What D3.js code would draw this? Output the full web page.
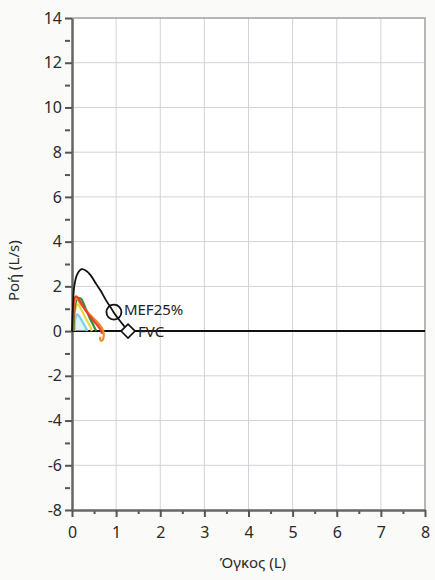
<!DOCTYPE html>
<html>
<head>
<meta charset="utf-8">
<script src="https://cdn.jsdelivr.net/npm/d3@7"></script>
<style>
  body { margin: 0; background: #fafaf9; }
  svg { display: block; }
  .tick text { font-family: "Noto Sans", "Open Sans", sans-serif; font-size: 16px; fill: #2a2a2a; }
</style>
</head>
<body>
<div id="chart"></div>
<script>
// flow-volume loops: [volume L, flow L/s]
var bestCurve = [[0,0],[0.02,1.0],[0.05,2.0],[0.12,2.55],[0.22,2.77],[0.32,2.7],[0.42,2.5],[0.55,2.1],[0.65,1.8],[0.78,1.35],[0.88,1.05],[0.95,0.82],[1.05,0.55],[1.15,0.3],[1.27,0]];
var redCurve = [[0.02,0],[0.03,0.8],[0.05,1.45],[0.1,1.55],[0.18,1.35],[0.3,0.95],[0.45,0.55],[0.58,0.25],[0.65,0.05],[0.68,-0.12]];
var orangeCurve = [[0.03,0],[0.05,1.2],[0.1,1.45],[0.2,1.2],[0.35,0.85],[0.5,0.55],[0.62,0.3],[0.7,0.05],[0.72,-0.15],[0.7,-0.38],[0.65,-0.42],[0.64,-0.25]];
var greenCurve = [[0.04,0],[0.06,1.0],[0.12,1.45],[0.2,1.45],[0.3,1.05],[0.4,0.6],[0.5,0.2],[0.55,0]];
var yellowCurve = [[0.05,0],[0.07,0.9],[0.12,1.2],[0.2,1.0],[0.3,0.6],[0.4,0.25],[0.45,0]];
var cyanCurve = [[0.06,0],[0.08,0.6],[0.12,0.75],[0.2,0.55],[0.3,0.2],[0.35,0]];
var curves = [
  {pts: cyanCurve, color: "#7fd0e6"},
  {pts: yellowCurve, color: "#e6d84a"},
  {pts: greenCurve, color: "#2f8a3e"},
  {pts: orangeCurve, color: "#f08a2e"},
  {pts: redCurve, color: "#e4412a"}
];
var markers = [{name: "MEF25%", v: 0.95, f: 0.85, shape: "circle", dy: 3}, {name: "FVC", v: 1.27, f: 0, shape: "diamond", dy: 6}];
var xTicks = [0,1,2,3,4,5,6,7,8];
var yTicks = [-8,-6,-4,-2,0,2,4,6,8,10,12,14];

var W = 435, H = 580;
var margin = {top: 18, right: 10, bottom: 70, left: 72},
    width = W - margin.left - margin.right,
    height = H - margin.top - margin.bottom;

var svg = d3.select("#chart").append("svg")
    .attr("width", W)
    .attr("height", H)
  .append("g")
    .attr("transform", "translate(" + margin.left + "," + margin.top + ")");

var x = d3.scaleLinear().domain([0, 8]).range([0, width]);
var y = d3.scaleLinear().domain([-8, 14]).range([height, 0]);

svg.append("rect").attr("width", width).attr("height", height).attr("fill", "#fff");

// grid
svg.selectAll(".gx").data(xTicks.slice(1, -1)).enter().append("line")
    .attr("x1", d => x(d)).attr("x2", d => x(d)).attr("y1", 0).attr("y2", height)
    .attr("stroke", "#d2d3da").attr("stroke-width", 1);
svg.selectAll(".gy").data(yTicks.slice(1, -1)).enter().append("line")
    .attr("y1", d => y(d)).attr("y2", d => y(d)).attr("x1", 0).attr("x2", width)
    .attr("stroke", "#d2d3da").attr("stroke-width", 1);

// frame top/right
svg.append("path").attr("d", "M0,0H" + width + "V" + height)
    .attr("fill", "none").attr("stroke", "#a0a0a0").attr("stroke-width", 1.5);

// minor ticks
svg.append("g").attr("transform", "translate(0," + height + ")")
    .call(d3.axisBottom(x).tickValues(d3.range(0.5, 8, 1)).tickSize(4).tickFormat(""))
    .call(g => g.select(".domain").remove())
    .selectAll("line").attr("stroke", "#555").attr("stroke-width", 2);
svg.append("g")
    .call(d3.axisLeft(y).tickValues(d3.range(-7, 14, 2)).tickSize(5).tickFormat(""))
    .call(g => g.select(".domain").remove())
    .selectAll("line").attr("stroke", "#555").attr("stroke-width", 2).attr("transform", "translate(-2,0)");

// axes
var xAxis = svg.append("g").attr("transform", "translate(0," + height + ")")
    .call(d3.axisBottom(x).tickValues(xTicks).tickSize(7).tickSizeOuter(0).tickPadding(10));
var yAxis = svg.append("g")
    .call(d3.axisLeft(y).tickValues(yTicks).tickSize(7).tickSizeOuter(0).tickPadding(3).tickFormat(d => d));
[xAxis, yAxis].forEach(function(a) {
  a.select(".domain").attr("stroke", "#666").attr("stroke-width", 2.5);
  a.selectAll("line").attr("stroke", "#555").attr("stroke-width", 2);
});

// zero line
svg.append("line").attr("x1", x(0)).attr("x2", x(8)).attr("y1", y(0)).attr("y2", y(0))
    .attr("stroke", "#111").attr("stroke-width", 2);

var line = d3.line().x(d => x(d[0])).y(d => y(d[1])).curve(d3.curveCatmullRom);

// faint cyan fill
svg.append("path").datum(cyanCurve).attr("d", line).attr("fill", "#c4ebf4").attr("stroke", "none").attr("opacity", 0.6);

curves.forEach(function(c) {
  svg.append("path").datum(c.pts).attr("d", line)
      .attr("fill", "none").attr("stroke", c.color).attr("stroke-width", 2.2);
});
svg.append("path").datum(bestCurve).attr("d", line)
    .attr("fill", "none").attr("stroke", "#111").attr("stroke-width", 1.8);

// markers
markers.forEach(function(m) {
  var cx = x(m.v), cy = y(m.f);
  if (m.shape === "circle") {
    svg.append("circle").attr("cx", cx).attr("cy", cy).attr("r", 7.5)
        .attr("fill", "none").attr("stroke", "#111").attr("stroke-width", 1.8);
  } else {
    svg.append("path").attr("d", "M" + cx + "," + (cy - 7) + "l7,7l-7,7l-7,-7z")
        .attr("fill", "#fff").attr("stroke", "#111").attr("stroke-width", 1.6);
  }
  svg.append("text").attr("x", cx + 10).attr("y", cy + m.dy).text(m.name)
      .attr("font-family", "Noto Sans, sans-serif").attr("font-size", 15).attr("fill", "#222");
});

// axis titles
svg.append("text").attr("x", x(4.1)).attr("y", height + 58).attr("text-anchor", "middle")
    .attr("font-family", "Noto Sans, sans-serif").attr("font-size", 15).attr("fill", "#2a2a2a")
    .text("Όγκος (L)");
svg.append("text").attr("transform", "translate(" + (-53) + "," + y(2.7) + ")rotate(-90)")
    .attr("text-anchor", "middle")
    .attr("font-family", "Noto Sans, sans-serif").attr("font-size", 15).attr("fill", "#2a2a2a")
    .text("Ροή (L/s)");
</script>
</body>
</html>
